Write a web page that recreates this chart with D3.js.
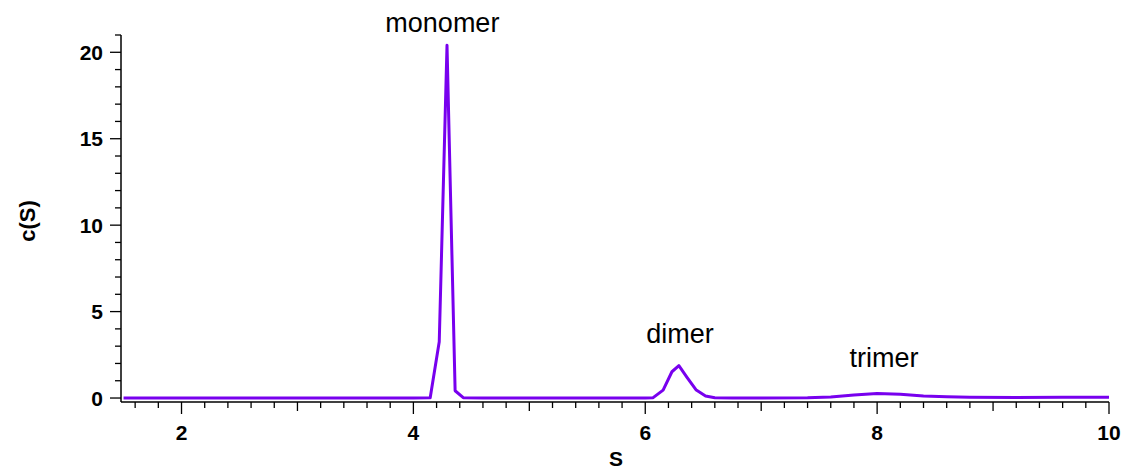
<!DOCTYPE html>
<html>
<head>
<meta charset="utf-8">
<script src="https://cdn.jsdelivr.net/npm/d3@7"></script>
<style>
  body { margin: 0; background: #fff; }
  text { font-family: Arial, "Liberation Sans", Helvetica, sans-serif; }
</style>
</head>
<body>
<svg id="chart"></svg>
<script>
"use strict";

var width = 1127;
var height = 469;

// sedimentation coefficient (S) and c(S)
var sValues = [1.5, 2.0, 2.5, 3.0, 3.5, 4.0, 4.145, 4.223, 4.29, 4.36, 4.43, 4.6, 5.0, 5.5, 6.0,
  6.068, 6.154, 6.23, 6.29, 6.36, 6.44, 6.52, 6.60, 6.75, 7.0, 7.4, 7.6, 7.8, 8.0, 8.2, 8.4,
  8.6, 8.8, 9.2, 9.6, 10.0];
var cValues = [0, 0, 0, 0, 0, 0, 0.02, 3.26, 20.4, 0.42, 0.02, 0, 0, 0, 0,
  0.02, 0.46, 1.52, 1.87, 1.2, 0.46, 0.12, 0.02, 0, 0, 0.02, 0.06, 0.18, 0.26, 0.22, 0.12,
  0.07, 0.04, 0.03, 0.05, 0.04];

var xTicks = [2, 4, 6, 8, 10];
var yTicks = [0, 5, 10, 15, 20];

var peakNames = ["monomer", "dimer", "trimer"];
var peakS = [4.25, 6.3, 8.06];
var peakLabelC = [21.2, 3.18, 1.82];

var svg = d3.select("#chart").attr("width", width).attr("height", height);

var x = d3.scaleLinear().domain([1.478, 10]).range([121, 1109]);
var y = d3.scaleLinear().domain([-0.23, 21]).range([402, 35]);

// y axis
var yAxis = svg.append("g").attr("transform", "translate(121,0)");
yAxis.append("line").attr("y1", y(21)).attr("y2", y(-0.23)).attr("stroke", "#000").attr("stroke-width", 1.5);
yAxis.selectAll(".ymin").data(d3.range(0, 22)).enter().append("line")
  .attr("x1", 0).attr("x2", function (d) { return d % 5 === 0 ? -11 : -6; })
  .attr("y1", function (d) { return y(d); }).attr("y2", function (d) { return y(d); })
  .attr("stroke", "#000").attr("stroke-width", 1.3);
yAxis.selectAll(".ylab").data(yTicks).enter().append("text")
  .attr("x", -18).attr("y", function (d) { return y(d); }).attr("dy", "0.36em")
  .attr("text-anchor", "end").attr("font-size", 21).attr("font-weight", "bold")
  .text(function (d) { return d; });

// x axis
var xAxis = svg.append("g").attr("transform", "translate(0,402)");
xAxis.append("line").attr("x1", x.range()[0]).attr("x2", x(10)).attr("stroke", "#000").attr("stroke-width", 1.5);
xAxis.selectAll(".xmin").data(d3.range(8, 51)).enter().append("line")
  .attr("x1", function (d) { return x(d / 5); }).attr("x2", function (d) { return x(d / 5); })
  .attr("y1", 0).attr("y2", function (d) { return d % 10 === 0 ? 12 : (d % 5 === 0 ? 9 : 6); })
  .attr("stroke", "#000").attr("stroke-width", 1.3);
xAxis.selectAll(".xlab").data(xTicks).enter().append("text")
  .attr("x", function (d) { return x(d); }).attr("y", 38)
  .attr("text-anchor", "middle").attr("font-size", 21).attr("font-weight", "bold")
  .text(function (d) { return d; });

// axis titles
svg.append("text").attr("x", 616).attr("y", 466).attr("text-anchor", "middle")
  .attr("font-size", 21).attr("font-weight", "bold").text("S");
svg.append("text").attr("transform", "translate(35,221) rotate(-90)").attr("text-anchor", "middle")
  .attr("font-size", 22).attr("font-weight", "bold").text("c(S)");

// distribution line
var line = d3.line()
  .x(function (d, i) { return x(sValues[i]); })
  .y(function (d) { return y(d); });
svg.append("path").datum(cValues).attr("d", line)
  .attr("fill", "none").attr("stroke", "#7800ee").attr("stroke-width", 3)
  .attr("stroke-linejoin", "round");

// peak labels
svg.selectAll(".peak").data(peakNames).enter().append("text")
  .attr("x", function (d, i) { return x(peakS[i]); })
  .attr("y", function (d, i) { return y(peakLabelC[i]); })
  .attr("text-anchor", "middle").attr("font-size", 27)
  .text(function (d) { return d; });
</script>
</body>
</html>
